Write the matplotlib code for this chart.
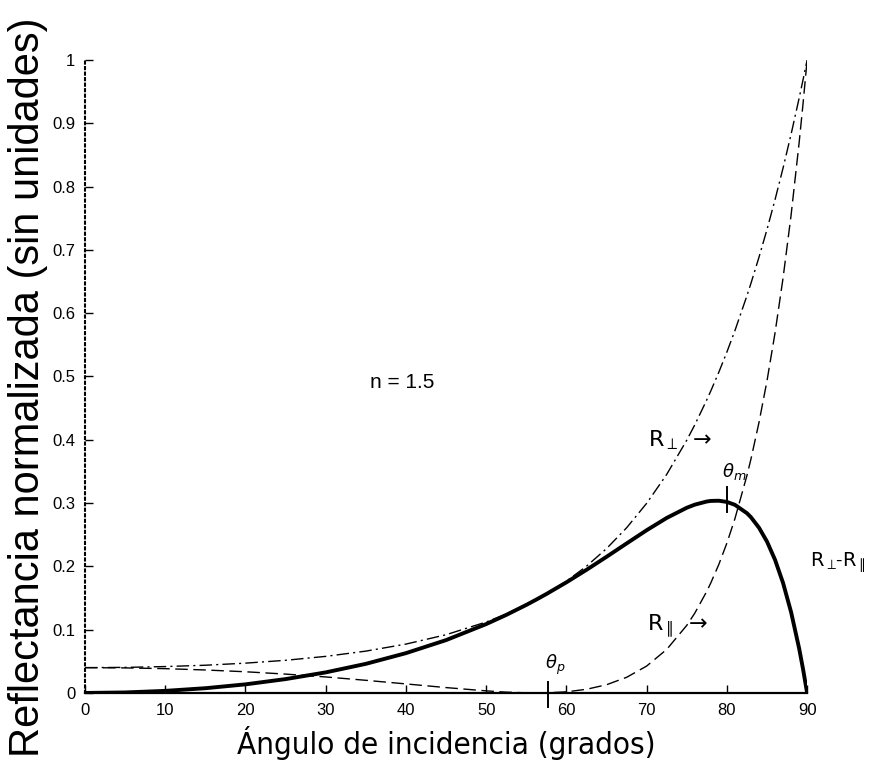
import matplotlib.pyplot as plt

plt.rcParams['font.family'] = ['Liberation Sans', 'DejaVu Sans']
plt.rcParams['mathtext.fontset'] = 'dejavusans'

# angulo de incidencia (grados) y reflectancias para n = 1.5
angulos = [0, 5, 10, 15, 20, 25, 30, 35, 40, 45, 50, 52.5, 55, 56.3, 57.5,
           60, 62.5, 65, 67.5, 70, 72.5, 75, 76, 77.5, 78, 79, 80, 81, 82.5,
           83, 84, 85, 86, 87, 88, 89, 89.5, 90]
r_perp = [0.040, 0.0404, 0.0417, 0.0438, 0.0471, 0.0516, 0.0578, 0.0661,
          0.0772, 0.0920, 0.1121, 0.1246, 0.1393, 0.1479, 0.1565, 0.1766,
          0.2002, 0.2281, 0.2609, 0.2996, 0.3453, 0.3994, 0.4236, 0.4632,
          0.4773, 0.5069, 0.5386, 0.5724, 0.6276, 0.6472, 0.6884, 0.7323,
          0.7793, 0.8293, 0.8826, 0.9395, 0.9693, 1.0]
r_par = [0.040, 0.0396, 0.0384, 0.0363, 0.0335, 0.0298, 0.0253, 0.0200,
         0.0143, 0.0085, 0.0033, 0.0013, 0.0002, 0.0, 0.0002, 0.0018,
         0.0058, 0.0130, 0.0247, 0.0425, 0.0688, 0.1068, 0.1261, 0.1607,
         0.1740, 0.2032, 0.2368, 0.2753, 0.3436, 0.3696, 0.4273, 0.4932,
         0.5688, 0.6555, 0.7548, 0.8689, 0.9322, 1.0]
r_dif = [0.0, 0.0008, 0.0033, 0.0075, 0.0136, 0.0219, 0.0325, 0.0460,
         0.0629, 0.0835, 0.1088, 0.1233, 0.1391, 0.1479, 0.1563, 0.1748,
         0.1945, 0.2151, 0.2362, 0.2571, 0.2765, 0.2926, 0.2975, 0.3025,
         0.3034, 0.3037, 0.3018, 0.2972, 0.2840, 0.2776, 0.2611, 0.2391,
         0.2104, 0.1738, 0.1278, 0.0706, 0.0371, 0.0]

theta_p = 57.7
theta_m = 80

x_ticks = [0, 10, 20, 30, 40, 50, 60, 70, 80, 90]
y_ticks = [0, 0.1, 0.2, 0.3, 0.4, 0.5, 0.6, 0.7, 0.8, 0.9, 1]
y_labels = ['0', '0.1', '0.2', '0.3', '0.4', '0.5', '0.6', '0.7', '0.8', '0.9', '1']

fig = plt.figure(figsize=(8.69, 7.74), dpi=100)
ax = fig.add_axes([0.0978, 0.1047, 0.831, 0.8178])

ax.plot(angulos, r_perp, color='black', lw=1.0, linestyle=(0, (9, 3, 1.5, 3)))
ax.plot(angulos, r_par, color='black', lw=1.0, linestyle=(0, (9, 4)))
ax.plot(angulos, r_dif, color='black', lw=2.8, solid_capstyle='round',
        solid_joinstyle='round')

# marcas de theta_p y theta_m
ax.plot([theta_p, theta_p], [-0.022, 0.017], color='black', lw=1.4, clip_on=False)
ax.plot([theta_m, theta_m], [0.286, 0.325], color='black', lw=1.4, clip_on=False)

ax.set_xlim(0, 90)
ax.set_ylim(0, 1)
ax.set_xticks(x_ticks)
ax.set_yticks(y_ticks)
ax.set_yticklabels(y_labels)
ax.tick_params(direction='in', length=6, width=1, labelsize=12, pad=7)

for s in ['top', 'right']:
    ax.spines[s].set_visible(False)
ax.spines['left'].set_linestyle(':')
ax.spines['left'].set_linewidth(1.5)
ax.spines['bottom'].set_linewidth(1.6)

ax.text(35.5, 0.49, 'n = 1.5', fontsize=15, va='center')
ax.text(70.2, 0.40, r'$\mathrm{R}_{\perp}\ \rightarrow$', fontsize=16, va='center')
ax.text(70.1, 0.105, r'$\mathrm{R}_{\parallel}\ \rightarrow$', fontsize=16, va='center')
ax.text(57.3, 0.045, r'$\theta_p$', fontsize=13, va='center')
ax.text(79.4, 0.35, r'$\theta_m$', fontsize=13, va='center')
ax.text(90.4, 0.205, r'$\mathrm{R}_{\perp}\!$-$\mathrm{R}_{\parallel}$',
        fontsize=14, va='center', clip_on=False)

ax.set_xlabel('Ángulo de incidencia (grados)', fontsize=22.5, labelpad=6,
              family='DejaVu Sans', fontstretch='condensed')
fig.text(0.032, 0.5, 'Reflectancia normalizada (sin unidades)', rotation=90,
         fontsize=30, va='center', ha='center')

fig.savefig('out.png', dpi=100, facecolor='white')
